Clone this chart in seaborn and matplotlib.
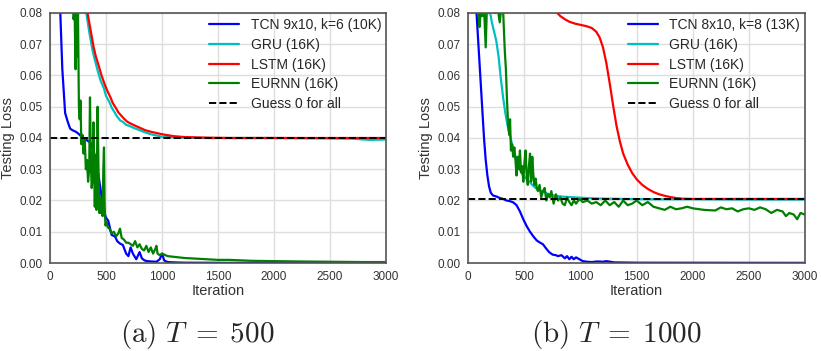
import numpy as np
import pandas as pd
import matplotlib
matplotlib.use('Agg')
import matplotlib.pyplot as plt
import seaborn as sns

# ---- (a) T = 500 ----
a_tcn_x = [90, 110, 135, 160, 180, 200, 230, 250, 280, 310, 340, 360, 390, 420, 450, 475, 500, 520, 550, 580,
           600, 625, 650, 680, 700, 720, 740, 770, 800, 820, 845, 870, 900, 950, 980, 1000, 1020, 1050, 1100,
           1200, 1400, 1600, 2000, 2500, 3000]
a_tcn_y = [0.082, 0.062, 0.048, 0.045, 0.043, 0.0425, 0.042, 0.0415, 0.0405, 0.0398, 0.039, 0.0385, 0.036,
           0.031, 0.024, 0.017, 0.0145, 0.0135, 0.009, 0.0085, 0.007, 0.0062, 0.0058, 0.003, 0.0022, 0.005,
           0.003, 0.0012, 0.0035, 0.0015, 0.0008, 0.0006, 0.0005, 0.0004, 0.0012, 0.003, 0.0008, 0.0003,
           0.0002, 0.0001, 0.00008, 0.00005, 0.00003, 0.00002, 0.00002]

a_gru_x = [320, 350, 380, 400, 430, 450, 480, 500, 530, 550, 580, 600, 630, 650, 680, 700, 750, 800, 850,
           900, 950, 1000, 1100, 1200, 1400, 1600, 2000, 2400, 2700, 2850, 3000]
a_gru_y = [0.081, 0.074, 0.068, 0.065, 0.061, 0.0585, 0.056, 0.0535, 0.0515, 0.0498, 0.048, 0.0468, 0.0455,
           0.0452, 0.0442, 0.0440, 0.0432, 0.0425, 0.0418, 0.0412, 0.0408, 0.0404, 0.0402, 0.0401, 0.0400,
           0.0400, 0.0400, 0.0399, 0.0398, 0.0394, 0.0395]

a_lstm_x = [330, 360, 390, 410, 440, 460, 490, 510, 540, 560, 590, 610, 640, 660, 690, 710, 750, 800, 850,
            900, 950, 1000, 1100, 1200, 1400, 1600, 2000, 2400, 3000]
a_lstm_y = [0.081, 0.075, 0.069, 0.066, 0.0625, 0.060, 0.057, 0.0552, 0.053, 0.0512, 0.0495, 0.0482, 0.047,
            0.0462, 0.0452, 0.0448, 0.0441, 0.0433, 0.0425, 0.0420, 0.0416, 0.0412, 0.0406, 0.0403, 0.0401,
            0.0400, 0.0400, 0.0400, 0.0400]

a_eurnn_x = [200, 210, 220, 228, 235, 242, 250, 258, 265, 272, 280, 290, 300, 310, 320, 330, 340, 350, 357,
             365, 372, 380, 388, 394, 400, 408, 415, 425, 432, 440, 448, 455, 462, 470, 476, 482, 488, 495,
             505, 515, 530, 550, 570, 590, 610, 625, 640, 660, 680, 700, 720, 740, 760, 780, 800, 820, 840,
             860, 880, 900, 920, 940, 950, 960, 980, 1000, 1050, 1100, 1150, 1200, 1300, 1400, 1500, 1600,
             1800, 2000, 2200, 2500, 2800, 3000]
a_eurnn_y = [0.085, 0.078, 0.080, 0.062, 0.081, 0.066, 0.080, 0.050, 0.046, 0.052, 0.038, 0.041, 0.035,
             0.040, 0.030, 0.033, 0.026, 0.030, 0.053, 0.032, 0.024, 0.027, 0.045, 0.030, 0.018, 0.034,
             0.017, 0.050, 0.032, 0.016, 0.021, 0.016, 0.018, 0.015, 0.030, 0.037, 0.018, 0.012, 0.013,
             0.0115, 0.011, 0.0095, 0.010, 0.0085, 0.0095, 0.011, 0.008, 0.0075, 0.0065, 0.0065, 0.0060,
             0.0055, 0.0070, 0.0050, 0.0060, 0.0045, 0.0040, 0.0055, 0.0035, 0.0050, 0.0030, 0.0045, 0.0055,
             0.0030, 0.0025, 0.0030, 0.0022, 0.0020, 0.0018, 0.0016, 0.0014, 0.0012, 0.0010, 0.0010, 0.0007,
             0.0006, 0.0005, 0.0004, 0.0003, 0.0003]

a_guess = 0.040

# ---- (b) T = 1000 ----
b_tcn_x = [70, 90, 110, 125, 140, 155, 170, 185, 200, 220, 250, 280, 310, 340, 370, 400, 430, 460, 490, 520,
           550, 580, 610, 640, 665, 690, 720, 750, 780, 800, 830, 860, 880, 900, 920, 940, 960, 990, 1020,
           1060, 1100, 1150, 1200, 1230, 1300, 1500, 2000, 2500, 3000]
b_tcn_y = [0.082, 0.070, 0.058, 0.049, 0.040, 0.033, 0.028, 0.0245, 0.0225, 0.0216, 0.0213, 0.0208, 0.0205,
           0.0200, 0.0198, 0.0194, 0.0185, 0.0165, 0.0140, 0.0118, 0.0100, 0.0085, 0.0072, 0.0065, 0.0060,
           0.0048, 0.0035, 0.0027, 0.0025, 0.0022, 0.0025, 0.0015, 0.0022, 0.0012, 0.0020, 0.0012, 0.0018,
           0.0012, 0.0006, 0.0004, 0.0003, 0.0005, 0.0004, 0.0006, 0.0002, 0.0001, 0.00008, 0.00006, 0.00005]

b_gru_x = [190, 210, 230, 250, 270, 290, 310, 330, 350, 370, 390, 420, 450, 480, 510, 540, 570, 600, 640,
           680, 720, 760, 800, 850, 900, 1000, 1100, 1200, 1400, 1600, 2000, 2500, 3000]
b_gru_y = [0.081, 0.077, 0.074, 0.071, 0.066, 0.059, 0.053, 0.048, 0.044, 0.041, 0.038, 0.034, 0.0305,
           0.0285, 0.0272, 0.0262, 0.0250, 0.0240, 0.0232, 0.0226, 0.0220, 0.0216, 0.0214, 0.0212, 0.0211,
           0.0209, 0.0207, 0.0206, 0.0205, 0.0204, 0.0204, 0.0203, 0.0203]

b_lstm_x = [780, 820, 860, 900, 950, 1000, 1050, 1100, 1140, 1170, 1200, 1230, 1260, 1290, 1320, 1350, 1380,
            1420, 1460, 1500, 1550, 1600, 1650, 1700, 1750, 1800, 1850, 1900, 2000, 2200, 2500, 3000]
b_lstm_y = [0.0805, 0.079, 0.078, 0.0772, 0.0766, 0.0762, 0.0758, 0.0752, 0.0740, 0.0722, 0.0690, 0.0640,
            0.0575, 0.0505, 0.0440, 0.0390, 0.0350, 0.0315, 0.0288, 0.0268, 0.0250, 0.0237, 0.0227, 0.0220,
            0.0215, 0.0211, 0.0208, 0.0206, 0.0205, 0.0205, 0.0205, 0.0205]

b_eurnn_x = [90, 100, 110, 125, 140, 155, 165, 180, 200, 220, 240, 260, 280, 295, 310, 325, 335, 345, 355,
             365, 372, 380, 390, 400, 410, 420, 430, 440, 450, 460, 470, 480, 490, 500, 510, 520, 530, 540,
             550, 560, 570, 580, 590, 600, 610, 620, 635, 650, 665, 680, 695, 710, 725, 740, 760, 780, 800,
             820, 840, 860, 880, 900, 920, 940, 960, 990, 1020, 1060, 1100, 1140, 1180, 1220, 1260, 1300,
             1340, 1380, 1420, 1460, 1500, 1550, 1600, 1650, 1700, 1750, 1800, 1850, 1900, 1950, 2000, 2100,
             2200, 2250, 2300, 2350, 2400, 2450, 2500, 2550, 2600, 2650, 2700, 2750, 2800, 2830, 2860, 2900,
             2930, 2960, 3000]
b_eurnn_y = [0.082, 0.0755, 0.080, 0.079, 0.082, 0.069, 0.081, 0.080, 0.082, 0.081, 0.080, 0.082, 0.077,
             0.082, 0.081, 0.068, 0.062, 0.052, 0.044, 0.041, 0.046, 0.036, 0.038, 0.034, 0.037, 0.033,
             0.028, 0.034, 0.030, 0.036, 0.029, 0.031, 0.026, 0.032, 0.036, 0.028, 0.025, 0.031, 0.035,
             0.026, 0.034, 0.028, 0.025, 0.027, 0.024, 0.023, 0.025, 0.021, 0.023, 0.024, 0.020, 0.022,
             0.021, 0.023, 0.019, 0.022, 0.020, 0.021, 0.019, 0.0185, 0.021, 0.0195, 0.0185, 0.020, 0.019,
             0.0205, 0.0195, 0.0200, 0.0190, 0.0195, 0.0185, 0.0200, 0.0185, 0.0195, 0.0180, 0.0200, 0.0185,
             0.0190, 0.0200, 0.0185, 0.0195, 0.0180, 0.0175, 0.0170, 0.0180, 0.0172, 0.0175, 0.0180, 0.0175,
             0.0170, 0.0168, 0.0178, 0.0172, 0.0175, 0.0165, 0.0172, 0.0175, 0.0170, 0.0178, 0.0172, 0.0160,
             0.0170, 0.0165, 0.0150, 0.0160, 0.0155, 0.0140, 0.0160, 0.0155]

b_guess = 0.0204

labels_a = ['TCN 9x10, k=6 (10K)', 'GRU (16K)', 'LSTM (16K)', 'EURNN (16K)']
labels_b = ['TCN 8x10, k=8 (13K)', 'GRU (16K)', 'LSTM (16K)', 'EURNN (16K)']
colors = ['#0000ff', '#00bfbf', '#ff0000', '#008000']
x_ticks = [0, 500, 1000, 1500, 2000, 2500, 3000]
y_ticks = [0.0, 0.01, 0.02, 0.03, 0.04, 0.05, 0.06, 0.07, 0.08]

sns.set_style('whitegrid', {'axes.edgecolor': '#555555', 'grid.color': '#dedede'})
plt.rcParams['font.family'] = ['Liberation Sans', 'DejaVu Sans']
plt.rcParams['mathtext.fontset'] = 'cm'

fig = plt.figure(figsize=(8.21, 3.51), dpi=100)
ax_a = fig.add_axes([0.0609, 0.2507, 0.4093, 0.7123])
ax_b = fig.add_axes([0.5704, 0.2507, 0.4101, 0.7123])

panels = [
    (ax_a, labels_a, [(a_tcn_x, a_tcn_y), (a_gru_x, a_gru_y), (a_lstm_x, a_lstm_y), (a_eurnn_x, a_eurnn_y)], a_guess),
    (ax_b, labels_b, [(b_tcn_x, b_tcn_y), (b_gru_x, b_gru_y), (b_lstm_x, b_lstm_y), (b_eurnn_x, b_eurnn_y)], b_guess),
]

for ax, labels, series, guess in panels:
    for (xs, ys), lab, col in zip(series, labels, colors):
        sns.lineplot(x=xs, y=ys, ax=ax, color=col, label=lab, linewidth=1.6)
    ax.axhline(guess, color='black', linestyle='--', linewidth=1.4, label='Guess 0 for all')
    ax.set_xlim(0, 3000)
    ax.set_ylim(0, 0.08)
    ax.set_xticks(x_ticks)
    ax.set_yticks(y_ticks)
    ax.set_yticklabels(['%.2f' % v for v in y_ticks])
    ax.tick_params(axis='both', labelsize=8.5, colors='#333333', pad=2)
    ax.set_xlabel('Iteration', fontsize=10.5, color='#333333', labelpad=1)
    ax.set_ylabel('Testing Loss', fontsize=10.5, color='#333333', labelpad=3)
    for sp in ax.spines.values():
        sp.set_linewidth(1.2)
    ax.grid(True, linewidth=1.0)
    ax.legend(loc='upper right', frameon=False, fontsize=10, handlelength=2.2, handletextpad=0.8,
              labelspacing=0.42, borderaxespad=0.1, borderpad=0.25)

fig.text(197 / 821, 0.048, r'$\mathrm{(a)}\ T\;=\;500$', ha='center', va='center', fontsize=21)
fig.text(616 / 821, 0.048, r'$\mathrm{(b)}\ T\;=\;1000$', ha='center', va='center', fontsize=21)

fig.savefig('out.png', dpi=100)
